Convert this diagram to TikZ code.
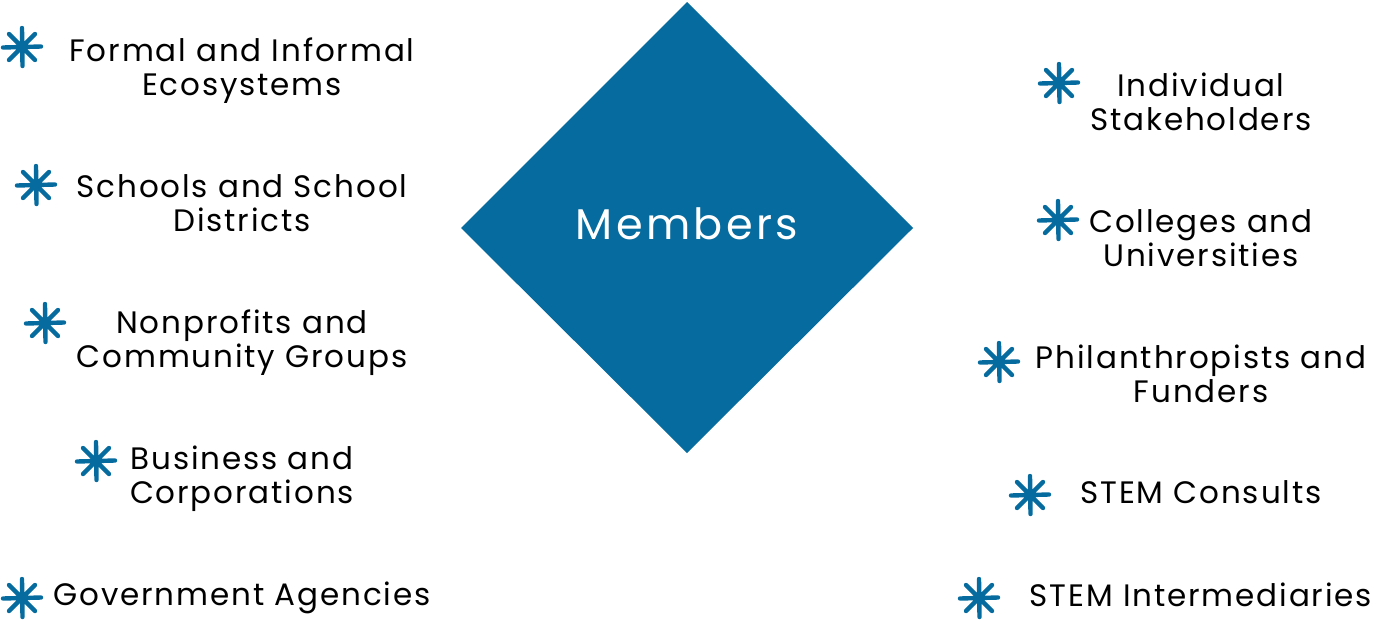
\documentclass[tikz,border=0pt]{standalone}
\usepackage{fontspec}
\setmainfont{Poppins}[LetterSpace=6]
\definecolor{memblue}{HTML}{066B9E}
% two centred lines whose baseline is the first line's
\newcommand{\twoline}[2]{\vtop{\halign{\hfil##\hfil\cr #1\cr #2\cr}}}
\begin{document}
\begin{tikzpicture}[x=1pt,y=-1pt,
  lbl/.style={anchor=base,font=\fontsize{31}{34}\selectfont,text=black,inner sep=0pt},
  star/.pic={
    \draw[memblue,line width=4.4pt,line cap=round]
      (0,-19)--(0.5,19) (-19,0.5)--(19,-0.5)
      (-13,-13)--(13,13) (13,-13)--(-13,13);
  }]
\useasboundingbox (0,0) rectangle (1379,619);
% central diamond
\fill[memblue] (687,2) -- (913,228) -- (687,453) -- (461,228) -- cycle;
\node[anchor=base,text=white,font=\fontsize{43}{50}\selectfont\addfontfeature{LetterSpace=8},inner sep=0pt] (members) at (687,239) {Members};
% left column
\node[lbl] (l1) at (242,61) {\twoline{Formal and Informal}{Ecosystems}};
\node[lbl] (l2) at (242,197) {\twoline{Schools and School}{Districts}};
\node[lbl] (l3) at (242,333) {\twoline{Nonprofits and}{Community Groups}};
\node[lbl] (l4) at (242,469) {\twoline{Business and}{Corporations}};
\node[lbl] (l5) at (242,605) {Government Agencies};
\pic at (22,47) {star};
\pic at (36,185) {star};
\pic at (45,323) {star};
\pic at (96,461) {star};
\pic at (22,598) {star};
% right column
\node[lbl] (r1) at (1201,96) {\twoline{Individual}{Stakeholders}};
\node[lbl] (r2) at (1201,232) {\twoline{Colleges and}{Universities}};
\node[lbl] (r3) at (1201,368) {\twoline{Philanthropists and}{Funders}};
\node[lbl] (r4) at (1201,503) {STEM Consults};
\node[lbl] (r5) at (1201,606) {STEM Intermediaries};
\pic at (1059,83) {star};
\pic at (1058,220) {star};
\pic at (999,362) {star};
\pic at (1030,495) {star};
\pic at (979,598) {star};
\end{tikzpicture}
\end{document}
